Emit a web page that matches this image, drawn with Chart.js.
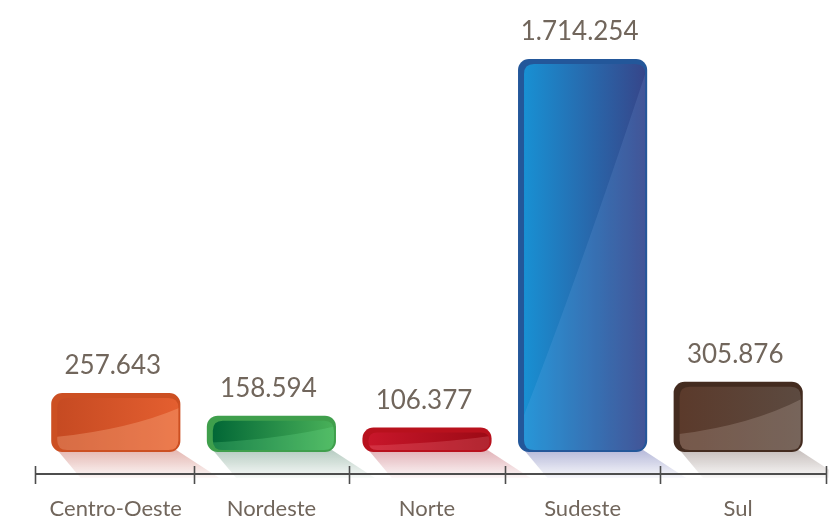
<!DOCTYPE html>
<html>
<head>
<meta charset="utf-8">
<script src="https://cdn.jsdelivr.net/npm/chart.js@4"></script>
<style>
html,body{margin:0;padding:0;background:#fff;}
#wrap{width:829px;height:519px;position:relative;}
</style>
</head>
<body>
<div id="wrap"><canvas id="c"></canvas></div>
<script>
// ---- data ----
const categories = ['Centro-Oeste', 'Nordeste', 'Norte', 'Sudeste', 'Sul'];
const values = [257643, 158594, 106377, 1714254, 305876];
const valueLabels = ['257.643', '158.594', '106.377', '1.714.254', '305.876'];

// ---- styles ----
const rimColors   = ['#cc4f22', '#3f9f4c', '#b8111d', '#23579a', '#432b1f'];
const faceLeft    = ['#c64a22', '#026736', '#c8162a', '#1890d3', '#5b3a2b'];
const faceRight   = ['#e45f30', '#49b159', '#9c0a15', '#36468a', '#5c4a40'];
const glossColors = ['rgba(255,190,150,0.30)', 'rgba(120,230,150,0.22)', 'rgba(255,140,150,0.22)', 'rgba(160,200,255,0.12)', 'rgba(230,210,200,0.20)'];
const shadowRGB   = ['205,120,110', '120,160,140', '200,110,120', '120,125,185', '150,135,130'];
const textColor = '#71665c';

function roundRect(ctx, x0, y0, x1, y1, r) {
  r = Math.min(r, (x1 - x0) / 2, (y1 - y0) / 2);
  ctx.beginPath();
  ctx.moveTo(x0 + r, y0);
  ctx.lineTo(x1 - r, y0);
  ctx.quadraticCurveTo(x1, y0, x1, y0 + r);
  ctx.lineTo(x1, y1 - r);
  ctx.quadraticCurveTo(x1, y1, x1 - r, y1);
  ctx.lineTo(x0 + r, y1);
  ctx.quadraticCurveTo(x0, y1, x0, y1 - r);
  ctx.lineTo(x0, y0 + r);
  ctx.quadraticCurveTo(x0, y0, x0 + r, y0);
  ctx.closePath();
}

const fancyBars = {
  id: 'fancyBars',
  beforeDatasetsDraw(chart) {
    const ctx = chart.ctx;
    const axisY = chart.chartArea.bottom;
    const meta = chart.getDatasetMeta(0);
    ctx.save();
    meta.data.forEach((bar, i) => {
      const p = bar.getProps(['x', 'y', 'base', 'width'], true);
      const x0 = p.x - p.width / 2, x1 = p.x + p.width / 2;
      const dy = axisY - p.base + 4;
      const g = ctx.createLinearGradient(0, p.base, 0, p.base + dy);
      g.addColorStop(0, 'rgba(' + shadowRGB[i] + ',0.5)');
      g.addColorStop(1, 'rgba(' + shadowRGB[i] + ',0.05)');
      ctx.fillStyle = g;
      ctx.beginPath();
      ctx.moveTo(x0 + 6, p.base - 2);
      ctx.lineTo(x1 - 4, p.base - 2);
      ctx.lineTo(x1 + dy * 1.5, p.base + dy);
      ctx.lineTo(x0 + 6 + dy * 0.9, p.base + dy);
      ctx.closePath();
      ctx.fill();
    });
    ctx.restore();
  },
  afterDatasetsDraw(chart) {
    const ctx = chart.ctx;
    const meta = chart.getDatasetMeta(0);
    ctx.save();
    meta.data.forEach((bar, i) => {
      const p = bar.getProps(['x', 'y', 'base', 'width'], true);
      const x0 = p.x - p.width / 2, x1 = p.x + p.width / 2;
      const fx0 = x0 + 6, fy0 = p.y + 5, fx1 = x1 - 2, fy1 = p.base - 2;
      const h = fy1 - fy0;
      // face
      const g = ctx.createLinearGradient(fx0, 0, fx1, 0);
      g.addColorStop(0, faceLeft[i]);
      g.addColorStop(1, faceRight[i]);
      roundRect(ctx, fx0, fy0, fx1, fy1, 10);
      ctx.fillStyle = g;
      ctx.fill();
      // gloss
      ctx.save();
      roundRect(ctx, fx0, fy0, fx1, fy1, 10);
      ctx.clip();
      ctx.beginPath();
      const startY = fy0 + h * 0.75;
      ctx.moveTo(fx0 - 2, h > 150 ? fy1 - 30 : startY);
      if (h > 150) {
        ctx.quadraticCurveTo(fx0 + (fx1 - fx0) * 0.45, fy0 + h * 0.55, fx1 + 2, fy0 + 4);
      } else {
        ctx.quadraticCurveTo(fx0 + (fx1 - fx0) * 0.6, startY - h * 0.15, fx1 + 2, fy0 + h * 0.18);
      }
      ctx.lineTo(fx1 + 2, fy1 + 2);
      ctx.lineTo(fx0 - 2, fy1 + 2);
      ctx.closePath();
      ctx.fillStyle = glossColors[i];
      ctx.fill();
      ctx.restore();
      // value label
      ctx.fillStyle = textColor;
      ctx.font = '400 26px Lato';
      ctx.textAlign = 'center';
      ctx.textBaseline = 'alphabetic';
      ctx.fillText(valueLabels[i], p.x - 3, p.y - 19);
    });
    ctx.restore();
  },
  afterDraw(chart) {
    const ctx = chart.ctx;
    const area = chart.chartArea;
    const n = categories.length;
    const step = (area.right - area.left) / n;
    const y = area.bottom;
    ctx.save();
    ctx.strokeStyle = '#4d4d4d';
    ctx.lineWidth = 2;
    ctx.beginPath();
    ctx.moveTo(area.left - 3, y);
    ctx.lineTo(area.right + 10, y);
    ctx.stroke();
    ctx.lineWidth = 1.6;
    for (let i = 0; i <= n; i++) {
      const x = Math.round(i === n ? area.right + 10 : (i === 0 ? area.left - 3 : area.left + i * step)) + 0.5;
      ctx.beginPath();
      ctx.moveTo(x, y - 8);
      ctx.lineTo(x, y + 10);
      ctx.stroke();
    }
    ctx.restore();
  }
};

new Chart(document.getElementById('c'), {
  type: 'bar',
  data: {
    labels: categories,
    datasets: [{
      data: values,
      backgroundColor: rimColors,
      borderWidth: 0,
      borderRadius: 11,
      borderSkipped: false,
      barPercentage: 0.83,
      categoryPercentage: 1.0
    }]
  },
  options: {
    responsive: true,
    maintainAspectRatio: false,
    animation: false,
    layout: { padding: { left: 38, right: 13, top: 10, bottom: 0 } },
    plugins: { legend: { display: false }, tooltip: { enabled: false } },
    scales: {
      x: {
        grid: { display: false },
        border: { display: false },
        ticks: { color: textColor, font: { family: 'Lato', size: 22 }, padding: 14 },
        afterFit(scale) { scale.height = 45; }
      },
      y: {
        display: false,
        min: -96000,
        max: 1928000
      }
    }
  },
  plugins: [fancyBars]
});
</script>
</body>
</html>
